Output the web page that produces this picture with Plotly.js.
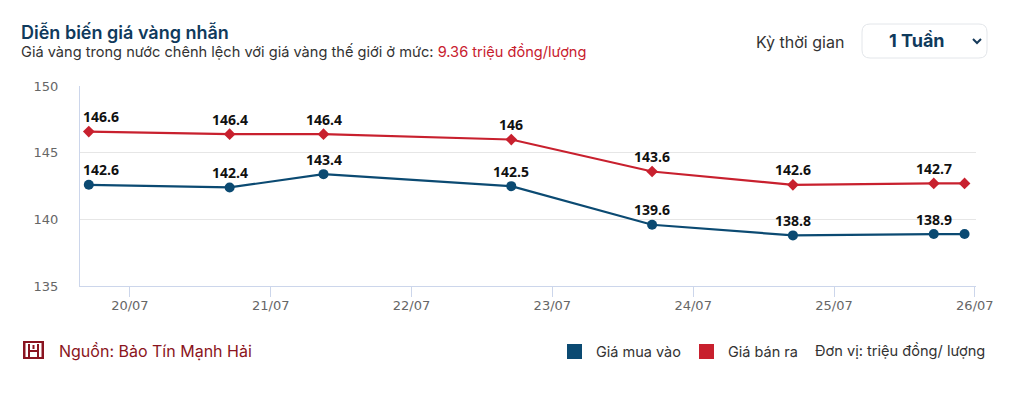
<!DOCTYPE html>
<html>
<head>
<meta charset="utf-8">
<script src="https://cdn.plot.ly/plotly-3.0.1.min.js"></script>
<style>
  html, body { margin: 0; padding: 0; background: #ffffff; }
  #chart { width: 1011px; height: 410px; }
</style>
</head>
<body>
<div id="chart"></div>
<script>
// Ring gold price, one week (triệu đồng/lượng)
const times = [
  '2025-07-19 17:00', '2025-07-20 17:00', '2025-07-21 09:00', '2025-07-22 17:00',
  '2025-07-23 17:00', '2025-07-24 17:00', '2025-07-25 17:00', '2025-07-25 22:15'
];
const buyPrices  = [142.6, 142.4, 143.4, 142.5, 139.6, 138.8, 138.9, 138.9];
const sellPrices = [146.6, 146.4, 146.4, 146.0, 143.6, 142.6, 142.7, 142.7];
const seriesNames = ['Giá mua vào', 'Giá bán ra'];
const tickDates  = ['2025-07-20', '2025-07-21', '2025-07-22', '2025-07-23', '2025-07-24', '2025-07-25', '2025-07-26'];
const tickLabels = ['20/07', '21/07', '22/07', '23/07', '24/07', '25/07', '26/07'];
const yTicks = [135, 140, 145, 150];
const spread = '9.36';

const BLUE = '#0b4a72';
const RED = '#c8202e';
const BRAND = '#8a1420';

// plot area in pixels
const W = 1011, H = 410;
const L = 80, R = 976, T = 86, B = 286;
const px = (x) => (x - L) / (R - L);
const py = (y) => (B - y) / (B - T);

const xRange = ['2025-07-19 15:30', '2025-07-26 00:12'];
const toMs = (s) => new Date(s.replace(' ', 'T') + ':00Z').getTime();
const xPixel = (s) => L + (toMs(s) - toMs(xRange[0])) / (toMs(xRange[1]) - toMs(xRange[0])) * (R - L);

const labelFont = { family: 'Open Sans, sans-serif', size: 14, color: '#111111', weight: 700 };

const traces = [
  {
    x: times, y: buyPrices, name: seriesNames[0], type: 'scatter', mode: 'lines+markers',
    line: { color: BLUE, width: 2.2 },
    marker: { color: BLUE, size: 10, symbol: 'circle' },
    cliponaxis: false, hoverinfo: 'x+y'
  },
  {
    x: times, y: sellPrices, name: seriesNames[1], type: 'scatter', mode: 'lines+markers',
    line: { color: RED, width: 2.2 },
    marker: { color: RED, size: 9, symbol: 'diamond' },
    cliponaxis: false, hoverinfo: 'x+y'
  }
];

// value labels above every point except the latest one, kept inside the plot area
function valueLabels(values) {
  const out = [];
  values.forEach((v, i) => {
    if (i === values.length - 1) return;
    const text = String(v);
    const half = text.length * 3.9;
    const xp = xPixel(times[i]);
    const shift = Math.max(0, L + 2 + half - xp);
    out.push({
      xref: 'x', yref: 'y', x: times[i], y: v, text: text, showarrow: false,
      xanchor: 'center', yanchor: 'middle', yshift: 15, xshift: shift,
      font: labelFont
    });
  });
  return out;
}

const uiFont = 'Inter, Roboto, sans-serif';

// rounded rectangle path in paper coordinates
function roundRect(x0, y0, x1, y1, r) {
  const X = (v) => px(v).toFixed(5), Y = (v) => py(v).toFixed(5);
  return `M ${X(x0 + r)} ${Y(y0)} L ${X(x1 - r)} ${Y(y0)} Q ${X(x1)} ${Y(y0)} ${X(x1)} ${Y(y0 + r)} ` +
         `L ${X(x1)} ${Y(y1 - r)} Q ${X(x1)} ${Y(y1)} ${X(x1 - r)} ${Y(y1)} ` +
         `L ${X(x0 + r)} ${Y(y1)} Q ${X(x0)} ${Y(y1)} ${X(x0)} ${Y(y1 - r)} ` +
         `L ${X(x0)} ${Y(y0 + r)} Q ${X(x0)} ${Y(y0)} ${X(x0 + r)} ${Y(y0)} Z`;
}
function polyline(pts) {
  return pts.map((p, i) => (i ? 'L ' : 'M ') + px(p[0]).toFixed(5) + ' ' + py(p[1]).toFixed(5)).join(' ');
}
function rect(x0, y0, x1, y1, color) {
  return { type: 'rect', xref: 'paper', yref: 'paper', x0: px(x0), x1: px(x1), y0: py(y1), y1: py(y0),
           fillcolor: color, line: { width: 0 } };
}

const shapes = [
  // period selector box
  { type: 'path', xref: 'paper', yref: 'paper', path: roundRect(862, 24, 987, 58, 8),
    line: { color: '#e3e6ea', width: 1 }, fillcolor: '#ffffff' },
  // chevron
  { type: 'path', xref: 'paper', yref: 'paper', path: polyline([[973, 39], [977, 43], [981, 39]]),
    line: { color: '#163a5a', width: 2 } },
  // brand mark
  rect(23, 341, 25.5, 359, BRAND),
  rect(41.5, 341, 44, 359, BRAND),
  rect(23, 341, 44, 343, BRAND),
  rect(23, 357, 44, 359, BRAND),
  rect(28, 344, 30, 357, BRAND),
  rect(37, 344, 39, 357, BRAND),
  rect(28, 350, 39, 352, BRAND),
  rect(32.5, 345, 34.5, 349, BRAND),
  // legend swatches
  rect(567, 344, 582, 359, BLUE),
  rect(699, 344, 714, 359, RED)
];

const ann = (x, y, text, opts) => Object.assign({
  xref: 'paper', yref: 'paper', x: px(x), y: py(y), text: text, showarrow: false,
  xanchor: 'left', yanchor: 'middle'
}, opts);

const annotations = [
  ann(19, 32, 'Diễn biến giá vàng nhẫn',
      { font: { family: uiFont, size: 18, color: '#0f3a5c', weight: 600 } }),
  ann(19, 52, 'Giá vàng trong nước chênh lệch với giá vàng thế giới ở mức: ' +
      `<span style="color:${RED}">${spread} triệu đồng/lượng</span>`,
      { font: { family: uiFont, size: 14.6, color: '#333333' } }),
  ann(846, 42, 'Kỳ thời gian', { xanchor: 'right', font: { family: uiFont, size: 16, color: '#333333' } }),
  ann(917, 41, '<b>1 Tuần</b>', { xanchor: 'center', font: { family: uiFont, size: 18, color: '#0f3a5c', weight: 700 } }),
  ann(57, 351, 'Nguồn: Bảo Tín Mạnh Hải', { font: { family: uiFont, size: 16, color: BRAND } }),
  ann(594, 351, seriesNames[0], { font: { family: uiFont, size: 14.5, color: '#333333' } }),
  ann(726, 351, seriesNames[1], { font: { family: uiFont, size: 14.5, color: '#333333' } }),
  ann(987, 351, 'Đơn vị: triệu đồng/ lượng', { xanchor: 'right', font: { family: uiFont, size: 14.6, color: '#333333' } })
].concat(valueLabels(buyPrices), valueLabels(sellPrices));

const layout = {
  width: W, height: H,
  margin: { l: L, r: W - R, t: T, b: H - B, pad: 0 },
  paper_bgcolor: '#ffffff', plot_bgcolor: '#ffffff',
  showlegend: false,
  xaxis: {
    type: 'date',
    range: xRange,
    tickmode: 'array', tickvals: tickDates, ticktext: tickLabels,
    showgrid: false, zeroline: false,
    showline: true, linecolor: '#ccd6eb', linewidth: 1,
    ticks: 'outside', ticklen: 10, tickcolor: '#ccd6eb', tickwidth: 1,
    ticklabelstandoff: -3,
    tickfont: { family: 'DejaVu Sans, Verdana, sans-serif', size: 13, color: '#666666' },
    fixedrange: true
  },
  yaxis: {
    range: [135, 150.02],
    tickmode: 'array', tickvals: yTicks, ticktext: yTicks.map(String),
    showgrid: true, gridcolor: '#e6e6e6', gridwidth: 1, zeroline: false,
    showline: true, linecolor: '#ccd6eb', linewidth: 1,
    ticks: '', ticklabelstandoff: 18,
    tickfont: { family: 'DejaVu Sans, Verdana, sans-serif', size: 13, color: '#666666' },
    fixedrange: true
  },
  shapes: shapes,
  annotations: annotations
};

Plotly.newPlot('chart', traces, layout, { displayModeBar: false });
</script>
</body>
</html>
